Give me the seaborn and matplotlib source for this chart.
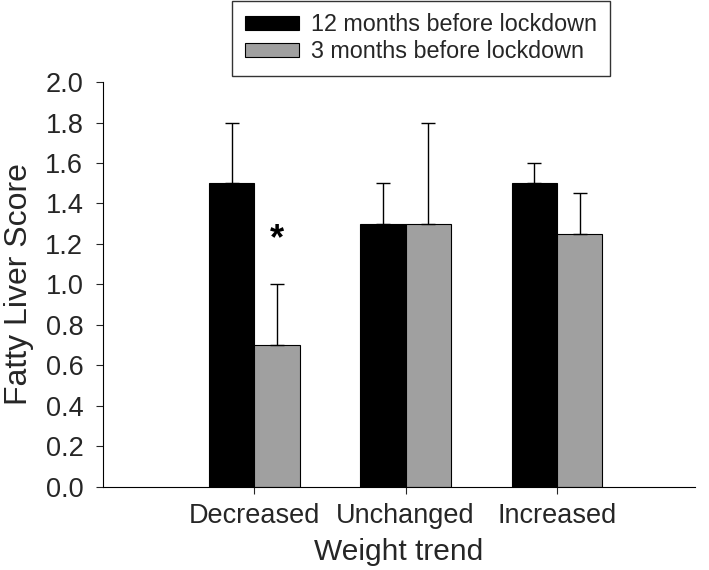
import pandas as pd
import matplotlib
matplotlib.use("Agg")
import matplotlib.pyplot as plt
import seaborn as sns

# data
categories = ["Decreased", "Unchanged", "Increased"]
series = ["12 months before lockdown", "3 months before lockdown"]
score_12m = [1.5, 1.3, 1.5]
score_3m = [0.7, 1.3, 1.25]
upper_12m = [1.8, 1.5, 1.6]
upper_3m = [1.0, 1.8, 1.45]
star_value = 1.22  # height of the significance mark

df = pd.DataFrame({
    "Weight trend": categories * 2,
    "Period": [series[0]] * 3 + [series[1]] * 3,
    "Score": score_12m + score_3m,
    "Upper": upper_12m + upper_3m,
})

sns.set_style("ticks")
plt.rcParams["font.family"] = ["Liberation Sans", "DejaVu Sans"]

fig = plt.figure(figsize=(7.09, 5.70), dpi=100)
ax = fig.add_axes([0.145, 0.146, 0.835, 0.710])

sns.barplot(data=df, x="Weight trend", y="Score", hue="Period",
            order=categories, hue_order=series,
            palette=["#000000", "#a0a0a0"], width=0.6,
            edgecolor="black", linewidth=0.8, errorbar=None,
            saturation=1, ax=ax)

# one-sided error bars, placed on the bars drawn by seaborn
bars = [p for p in ax.patches if p.get_height() > 0]
for p, up in zip(bars, df["Upper"]):
    xc = p.get_x() + p.get_width() / 2
    h = p.get_height()
    ax.errorbar(xc, h, yerr=[[0], [up - h]], fmt="none", ecolor="black",
                elinewidth=1.0, capsize=4.7, capthick=1.0, zorder=1)

# significance mark over the decreased / 3 months bar
p_star = bars[3]
ax.text(p_star.get_x() + p_star.get_width() / 2, star_value, "*",
        ha="center", va="center", fontsize=26, fontweight="bold", color="black")

ax.set_ylim(0, 2.0)
ax.set_xlim(-1.0, 2.91)
ax.set_yticks([i / 10 for i in range(0, 21, 2)])
ax.set_yticklabels([f"{i / 10:.1f}" for i in range(0, 21, 2)])
ax.tick_params(axis="both", labelsize=19.5, length=5, width=0.8, direction="out")
ax.tick_params(axis="y", pad=9)
ax.tick_params(axis="x", pad=7)
ax.set_xlabel("Weight trend", fontsize=21.5, labelpad=6)
ax.set_ylabel("Fatty Liver Score", fontsize=23, labelpad=8)
sns.despine(ax=ax)
for s in ["left", "bottom"]:
    ax.spines[s].set_linewidth(0.8)
    ax.spines[s].set_color("black")

handles, labels = ax.get_legend_handles_labels()
ax.get_legend().remove()
leg = fig.legend(handles, labels, loc="upper center",
                 bbox_to_anchor=(0.594, 0.999), borderaxespad=0,
                 fontsize=16.8, frameon=True, fancybox=False,
                 edgecolor="black", handlelength=2.3, handleheight=0.55,
                 borderpad=0.55, labelspacing=0.15, handletextpad=0.55)
leg.get_frame().set_linewidth(1.0)

fig.savefig("out.png", dpi=100)
